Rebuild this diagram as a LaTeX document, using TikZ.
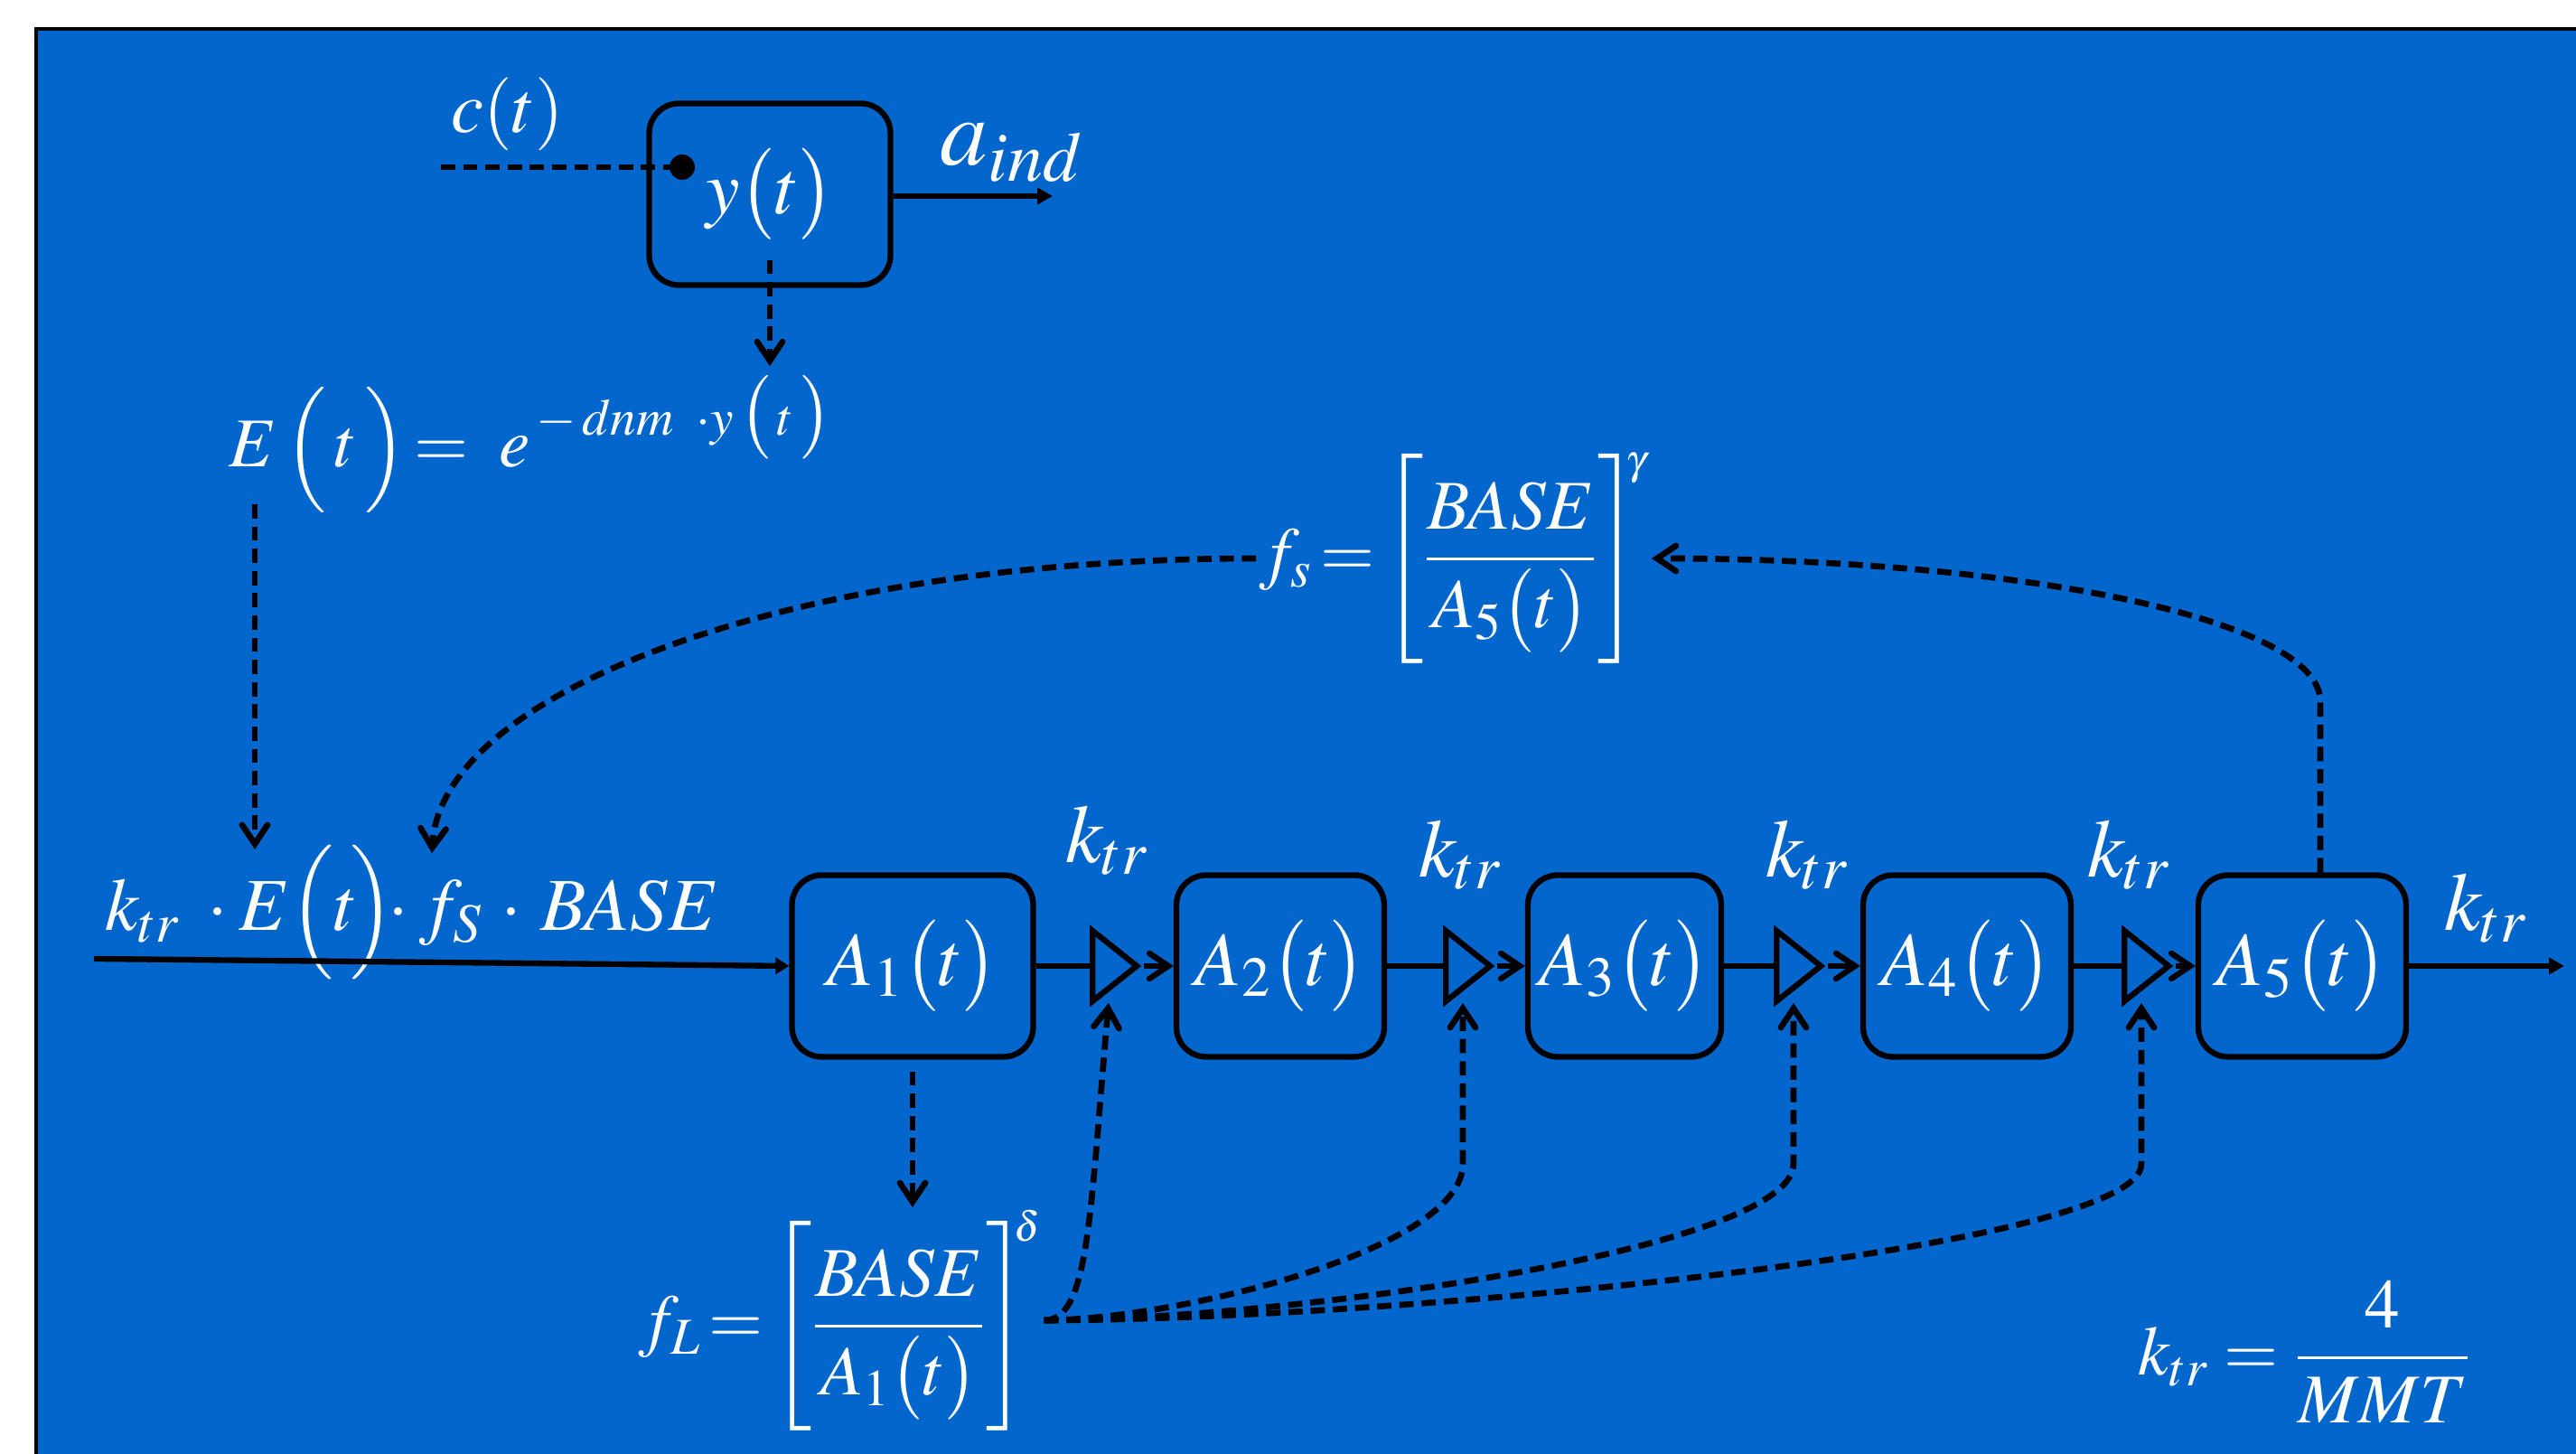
\documentclass[tikz,border=0pt]{standalone}
\usepackage{amsmath}
\usepackage{mathptmx}
\usepackage{tikz}
\usetikzlibrary{arrows.meta, shapes.geometric}

\definecolor{slideblue}{RGB}{3,102,204}

\begin{document}
\begin{tikzpicture}[
  blk/.style={draw, rounded corners=0.33cm, line width=1.8pt, minimum width=2.3cm,
    minimum height=2.01cm, text=white, font=\fontsize{24}{29}\selectfont},
  gain/.style={draw, line width=1.8pt, isosceles triangle, isosceles triangle stretches,
    minimum width=0.78cm, minimum height=0.49cm, inner sep=0pt},
  lab/.style={text=white, font=\fontsize{22}{26}\selectfont},
  sig/.style={line width=1.8pt},
  ctl/.style={line width=1.9pt, dash pattern=on 4.5pt off 2.5pt},
  >={Straight Barb[length=6pt, width=8pt, line cap=round]}
]
\useasboundingbox (0,0) rectangle (28.51,16.09);
% slide background
\fill[slideblue] (0.40,0) rectangle (28.51,15.77);
\draw[line width=0.04cm] (0.40,0) -- (0.40,15.77) -- (28.51,15.77);

% indirect response
\node[blk, minimum width=2.67cm] (yt) at (8.52,13.94) {$y\bigl(t\bigr)$};
\node[lab, font=\fontsize{23}{27}\selectfont] (ct) at (5.62,14.83) {$c(t)$};
\coordinate (cin) at (4.88,14.24);
\coordinate (cdot) at (7.55,14.24);
\draw[ctl] (cin) -- (cdot);
\fill (cdot) circle (0.14);
\node[lab, font=\fontsize{30}{35}\selectfont] (aind) at (11.20,14.40) {$a_{ind}$};
\coordinate (aout) at (11.65,13.92);
\draw[sig, -{Triangle[length=0.17cm, width=0.18cm]}] (yt.east |- aout) -- (aout);

\node[lab, anchor=base west, inner sep=0.1cm] (Et) at (2.43,10.92)
  {$E\,\Bigl(\,t\,\Bigr)\!=\;e^{\,-\,dnm\;\;\cdot y\,\bigl(\,t\,\bigr)}$};
\draw[ctl, ->] ([yshift=0.31cm]yt.south) -- (yt.south |- Et.north);

% transit chain
\node[lab, anchor=base west, inner sep=0pt, font=\fontsize{23.5}{28}\selectfont] (rate) at (1.16,5.79)
  {$k_{tr}\;\cdot E\Bigl(t\!\Bigr)\!\!\cdot f_S\,\cdot\, BASE$};
\coordinate (Ein) at (2.82,6.69);
\coordinate (fSin) at (4.78,6.65);
\coordinate (in) at (1.04,5.48);
\draw[ctl, ->] ([yshift=0.2cm]Et.south -| Ein) -- (Ein);

\node[blk, minimum width=2.67cm] (A1) at (10.10,5.40) {$A_1\bigl(t\bigr)$};
\node[blk] (A2) at (14.17,5.40) {$A_2\bigl(t\bigr)$};
\node[blk, minimum width=2.14cm] (A3) at (17.98,5.40) {$A_3\bigl(t\bigr)$};
\node[blk] (A4) at (21.77,5.40) {$A_4\bigl(t\bigr)$};
\node[blk] (A5) at (25.48,5.40) {$A_5\bigl(t\bigr)$};

\node[gain, anchor=west] (g1) at (12.06,5.40) {};
\node[gain, anchor=west] (g2) at (15.97,5.40) {};
\node[gain, anchor=west] (g3) at (19.63,5.40) {};
\node[gain, anchor=west] (g4) at (23.48,5.40) {};

\draw[sig, -{Triangle[length=0.15cm, width=0.18cm]}] (in) -- (A1.west);
\foreach \a/\g/\b in {A1/g1/A2, A2/g2/A3, A3/g3/A4, A4/g4/A5} {
  \draw[sig] (\a.east) -- (\g.west);
  \draw[sig, ->] (\g.apex) -- (\b.west);
}
\coordinate (out) at (28.38,5.40);
\draw[sig, -{Triangle[length=0.17cm, width=0.18cm]}] (A5.east) -- (out);

\foreach \n/\x/\y in {1/12.25/6.79, 2/16.16/6.63, 3/20.00/6.63, 4/23.56/6.63, 5/27.51/6.04}
  \node[lab, font=\fontsize{26}{31}\selectfont] (k\n) at (\x,\y) {$k_{tr}$};

% feedback terms
\node[lab, inner sep=0.03cm] (fs) at (16.09,9.91)
  {$f_s\!=\!\left[\dfrac{BASE}{A_5\bigl(t\bigr)}\right]^{\kern-4pt\scriptscriptstyle\gamma}$};
\node[lab, inner sep=0.02cm] (fL) at (9.30,1.48)
  {$f_L\!=\!\left[\dfrac{BASE}{A_1\bigl(t\bigr)}\right]^{\kern-4pt\scriptscriptstyle\delta}$};
\node[lab] (kmmt) at (25.51,1.13) {$k_{tr}=\dfrac{4}{MMT}$};

\draw[ctl, ->] (fs.west) .. controls +(-5.1,0) and +(0.1,1.8) .. (fSin);
\draw[ctl, ->] ([xshift=0.2cm]A5.north) -- ++(0,1.89)
  .. controls +(0,0.92) and +(4.02,0) .. (fs.east);
\draw[ctl, ->] ([yshift=-0.13cm]A1.south) -- (A1.south |- fL.north);

\coordinate (knee) at (0,3.21);
\draw[ctl, ->, shorten >=0.12cm] (fL.east) .. controls +(0.5,0) and +(-0.22,-2.49) .. (g1.south);
\foreach \g/\r in {g2/2.58, g3/4.67, g4/6.70}
  \draw[ctl, ->, shorten >=0.12cm] (fL.east) .. controls +(0.55*\r,0) and +(0,-0.96) .. (\g.south |- knee) -- (\g.south);
\end{tikzpicture}
\end{document}
